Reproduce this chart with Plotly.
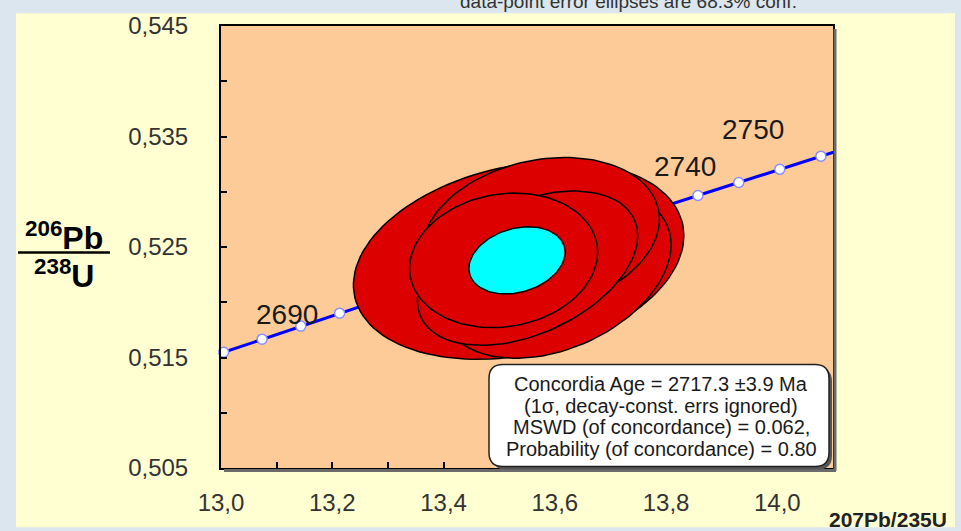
import numpy as np
import plotly.graph_objects as go

# ---- data ----
# concordia tick points (age in Ma, 207Pb/235U, 206Pb/238U)
conc_age = [2675, 2680, 2685, 2690, 2695, 2700, 2705, 2710, 2715, 2720, 2725,
            2730, 2735, 2740, 2745, 2750, 2755, 2760]
conc_x = [12.9360, 13.0048, 13.0739, 13.1434, 13.2132, 13.2833, 13.3539, 13.4247,
          13.4959, 13.5675, 13.6394, 13.7116, 13.7842, 13.8572, 13.9306, 14.0043,
          14.0783, 14.1528]
conc_y = [0.51431, 0.51548, 0.51666, 0.51784, 0.51901, 0.52019, 0.52137, 0.52255,
          0.52373, 0.52492, 0.52610, 0.52728, 0.52847, 0.52966, 0.53084, 0.53203,
          0.53322, 0.53441]
label_ages = [2690, 2740, 2750]

# data-point error ellipses: centre, half extents, correlation
ell_x = [13.535, 13.602, 13.575, 13.551, 13.508]
ell_y = [0.52379, 0.52254, 0.52612, 0.52308, 0.52379]
ell_ex = [0.297, 0.207, 0.213, 0.198, 0.169]
ell_ey = [0.00895, 0.00761, 0.00698, 0.00698, 0.00609]
ell_rho = [0.25, 0.35, 0.20, 0.42, 0.12]

# concordia age ellipse
age_x, age_y, age_ex, age_ey, age_rho = 13.532, 0.52379, 0.0865, 0.00304, 0.24

x_ticks = [13.0, 13.2, 13.4, 13.6, 13.8, 14.0]
y_ticks = [0.505, 0.515, 0.525, 0.535, 0.545]

info_lines = ["Concordia Age = 2717.3 \u00b13.9 Ma",
              "(1\u03c3, decay-const. errs ignored)",
              "MSWD (of concordance) = 0.062,",
              "Probability (of concordance) = 0.80"]

# ---- geometry helpers ----
L, R, T, B = 221, 128, 21, 63
W, H = 961, 531
PW, PH = W - L - R, H - T - B
FONT = "Liberation Sans, Arial"


def px(x):
    return (x - L) / PW


def py(y):
    return (H - B - y) / PH


def ellipse(cx, cy, ex, ey, rho, n=120):
    t = np.linspace(0, 2 * np.pi, n)
    xs = cx + ex * np.cos(t)
    ys = cy + ey * (rho * np.cos(t) + np.sqrt(1 - rho ** 2) * np.sin(t))
    return xs, ys


fig = go.Figure()

# concordia line
fig.add_trace(go.Scatter(x=conc_x, y=conc_y, mode="lines",
                         line=dict(color="#0000ff", width=3), hoverinfo="skip"))
# concordia markers
mk = [i for i, a in enumerate(conc_age) if 2680 <= a <= 2755]
fig.add_trace(go.Scatter(x=[conc_x[i] for i in mk], y=[conc_y[i] for i in mk],
                         mode="markers", cliponaxis=False,
                         marker=dict(size=10, color="white",
                                     line=dict(color="#8c8cff", width=1.5))))

# ellipses
for cx, cy, ex, ey, r in zip(ell_x, ell_y, ell_ex, ell_ey, ell_rho):
    xs, ys = ellipse(cx, cy, ex, ey, r)
    fig.add_trace(go.Scatter(x=xs, y=ys, mode="lines", fill="toself",
                             fillcolor="#dd0000",
                             line=dict(color="black", width=1.5), hoverinfo="skip"))
xs, ys = ellipse(age_x, age_y, age_ex, age_ey, age_rho)
fig.add_trace(go.Scatter(x=xs, y=ys, mode="lines", fill="toself",
                         fillcolor="#00ffff",
                         line=dict(color="black", width=1.5), hoverinfo="skip"))

# age labels
shifts = {2690: (-14, 12), 2740: (-13, 29), 2750: (-27, 40)}
for a in label_ages:
    i = conc_age.index(a)
    fig.add_annotation(x=conc_x[i], y=conc_y[i], text=str(a), showarrow=False,
                       xanchor="center", yanchor="middle",
                       xshift=shifts[a][0], yshift=shifts[a][1],
                       font=dict(family=FONT, size=28, color="#1a1a1a"))

shapes = []
blue = "#dce6ee"
# outer light-blue frame
shapes += [
    dict(type="rect", xref="paper", yref="paper", x0=-0.5, x1=1.5, y0=py(8), y1=1.2,
         fillcolor=blue, line=dict(width=0), layer="below"),
    dict(type="rect", xref="paper", yref="paper", x0=-0.5, x1=px(16), y0=-0.3, y1=1.2,
         fillcolor=blue, line=dict(width=0), layer="below"),
    dict(type="rect", xref="paper", yref="paper", x0=px(955), x1=1.5, y0=-0.3, y1=1.2,
         fillcolor=blue, line=dict(width=0), layer="below"),
    dict(type="rect", xref="paper", yref="paper", x0=-0.5, x1=1.5, y0=-0.3, y1=py(528),
         fillcolor=blue, line=dict(width=0), layer="below"),
]
# plot frame shadow
shapes += [
    dict(type="line", xref="paper", yref="paper", x0=px(835), x1=px(835),
         y0=py(471), y1=py(24), line=dict(color="#6b6b6b", width=3)),
    dict(type="line", xref="paper", yref="paper", x0=px(224), x1=px(836),
         y0=py(470.5), y1=py(470.5), line=dict(color="#6b6b6b", width=3)),
]
# y label fraction bar
shapes.append(dict(type="line", xref="paper", yref="paper", x0=px(18), x1=px(110),
                   y0=py(250), y1=py(250), line=dict(color="black", width=2.5)))


def rrect(w, h, r):
    x0, x1, y0, y1 = -w / 2, w / 2, -h / 2, h / 2
    return (f"M {x0+r},{y0} L {x1-r},{y0} Q {x1},{y0} {x1},{y0+r} "
            f"L {x1},{y1-r} Q {x1},{y1} {x1-r},{y1} L {x0+r},{y1} "
            f"Q {x0},{y1} {x0},{y1-r} L {x0},{y0+r} Q {x0},{y0} {x0+r},{y0} Z")


bw, bh = 340, 102
bcx, bcy = 659, 415
shapes.append(dict(type="path", xref="paper", yref="paper", xsizemode="pixel",
                   ysizemode="pixel", xanchor=px(bcx + 3), yanchor=py(bcy + 3),
                   path=rrect(bw, bh, 14), fillcolor="#555555",
                   line=dict(width=0), layer="above"))
shapes.append(dict(type="path", xref="paper", yref="paper", xsizemode="pixel",
                   ysizemode="pixel", xanchor=px(bcx), yanchor=py(bcy),
                   path=rrect(bw, bh, 14), fillcolor="white",
                   line=dict(color="#222222", width=1.5), layer="above"))

for k, line in enumerate(info_lines):
    fig.add_annotation(xref="paper", yref="paper", x=px(bcx + 2), y=py(383 + 21.8 * k),
                       xanchor="center", yanchor="middle",
                       text=line, showarrow=False,
                       font=dict(family=FONT, size=20, color="#1a1a1a"))

# y axis title (fraction)
fig.add_annotation(xref="paper", yref="paper", x=px(64), y=py(233),
                   xanchor="center", yanchor="middle",
                   text="<b><sup>206</sup>Pb</b>", showarrow=False,
                   font=dict(family=FONT, size=32, color="black"))
fig.add_annotation(xref="paper", yref="paper", x=px(64), y=py(272),
                   xanchor="center", yanchor="middle",
                   text="<b><sup>238</sup>U</b>", showarrow=False,
                   font=dict(family=FONT, size=32, color="black"))
# x axis title
fig.add_annotation(xref="paper", yref="paper", x=px(888), y=py(520),
                   xanchor="center", yanchor="middle",
                   text="<b>207Pb/235U</b>", showarrow=False,
                   font=dict(family=FONT, size=21, color="#222222"))
# top caption (cut off at the top)
fig.add_annotation(xref="paper", yref="paper", x=px(628), y=py(-4),
                   xanchor="center", yanchor="middle",
                   text="data-point error ellipses are 68.3% conf.", showarrow=False,
                   font=dict(family=FONT, size=19, color="#333333"))

fig.update_layout(
    width=W, height=H,
    margin=dict(l=L, r=R, t=T, b=B, pad=0),
    paper_bgcolor="#ffffd2",
    plot_bgcolor="#fdcb98",
    showlegend=False,
    separators=", ",
    shapes=shapes,
    font=dict(family=FONT, size=24, color="#333333"),
)
fig.update_xaxes(range=[13.0, 14.1], tickvals=x_ticks, tickformat=".1f",
                 ticks="inside", ticklen=6, tickwidth=2, tickcolor="black",
                 minor=dict(dtick=0.1, tick0=13.0, ticks="inside", ticklen=6,
                            tickwidth=2, tickcolor="black"),
                 showgrid=False, zeroline=False, showline=True, linecolor="black",
                 linewidth=2, mirror=True, ticklabelstandoff=12,
                 tickfont=dict(size=24, color="#333333"))
fig.update_yaxes(range=[0.505, 0.545], tickvals=y_ticks, tickformat=".3f",
                 ticks="inside", ticklen=6, tickwidth=2, tickcolor="black",
                 minor=dict(dtick=0.005, tick0=0.505, ticks="inside", ticklen=6,
                            tickwidth=2, tickcolor="black"),
                 showgrid=False, zeroline=False, showline=True, linecolor="black",
                 linewidth=2, mirror=True, ticklabelstandoff=26,
                 tickfont=dict(size=24, color="#333333"))

fig.write_html("out.html", config={"displayModeBar": False},
               post_script="document.body.style.margin='0';document.body.style.overflow='hidden';")
